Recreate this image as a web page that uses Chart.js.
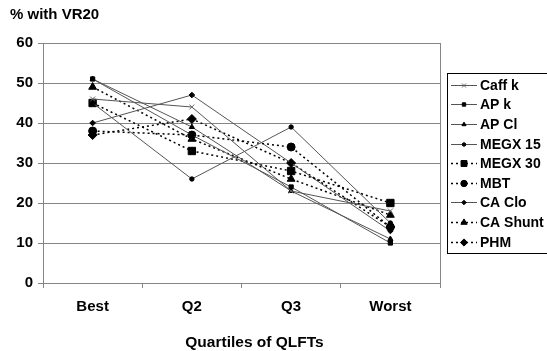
<!DOCTYPE html>
<html>
<head>
<meta charset="utf-8">
<script src="https://cdn.jsdelivr.net/npm/chart.js@4.4.1/dist/chart.umd.min.js"></script>
<style>
  body { margin: 0; background: #fff; }
  #wrap { width: 547px; height: 351px; }
</style>
</head>
<body>
<div id="wrap"><canvas id="vr20_chart" width="547" height="351"></canvas></div>
<script>
// categories and values
var quartiles = ['Best', 'Q2', 'Q3', 'Worst'];
var seriesNames = ['Caff k', 'AP k', 'AP Cl', 'MEGX 15', 'MEGX 30', 'MBT', 'CA Clo', 'CA Shunt', 'PHM'];

var caffK    = [46, 44, 23, 18];
var apK      = [51, 37, 24, 10];
var apCl     = [51, 39, 23, 11];
var megx15   = [45, 26, 39, 15];
var megx30   = [45, 33, 28, 20];
var mbt      = [38, 37, 34, 14];
var caClo    = [40, 47, 30, 13];
var caShunt  = [49, 36, 26, 17];
var phm      = [37, 41, 30, 14];

var yTicks = [0, 10, 20, 30, 40, 50, 60];
var xTitle = 'Quartiles of QLFTs';

var FONT = '"Liberation Sans", Arial, sans-serif';
var GRID = '#868686';

function line(name, values, style, radius, dotted, color) {
  return {
    label: name,
    data: values,
    borderColor: dotted ? '#000' : '#555',
    borderWidth: dotted ? 1.5 : 1,
    borderDash: dotted ? [2, 3] : [],
    pointStyle: style,
    pointRadius: radius,
    pointBackgroundColor: color || '#000',
    pointBorderColor: color || '#000',
    pointBorderWidth: 1,
    tension: 0,
    fill: false
  };
}

// legend in a box (line + marker), plot border and x axis title
var boxedLegend = {
  id: 'boxedLegend',
  afterDraw: function(chart) {
    var ctx = chart.ctx, area = chart.chartArea;
    ctx.save();
    ctx.strokeStyle = GRID;
    ctx.lineWidth = 1;
    ctx.beginPath();
    ctx.moveTo(Math.round(area.right) + 0.5, area.top);
    ctx.lineTo(Math.round(area.right) + 0.5, area.bottom);
    ctx.stroke();

    ctx.fillStyle = '#000';
    ctx.font = 'bold 15.5px ' + FONT;
    ctx.textAlign = 'center';
    ctx.textBaseline = 'middle';
    ctx.fillText(xTitle, (area.left + area.right) / 2 + 13, chart.height - 8);

    var sets = chart.data.datasets;
    var rowH = 19.6;
    var boxH = sets.length * rowH + 4;
    var left = Math.round(area.right) + 7;
    var top = Math.round((area.top + area.bottom) / 2 - boxH / 2);
    ctx.strokeStyle = '#000';
    ctx.strokeRect(left + 0.5, top + 0.5, chart.width, Math.round(boxH));

    ctx.font = 'bold 14px ' + FONT;
    ctx.textAlign = 'left';
    sets.forEach(function(ds, i) {
      var y = Math.round(top + 2 + rowH * (i + 0.5)) + 0.5;
      ctx.strokeStyle = ds.borderColor;
      ctx.lineWidth = ds.borderWidth;
      ctx.setLineDash(ds.borderDash);
      ctx.beginPath();
      ctx.moveTo(left + 4, y);
      ctx.lineTo(left + 30, y);
      ctx.stroke();
      ctx.setLineDash([]);
      ctx.fillStyle = ds.pointBackgroundColor;
      ctx.strokeStyle = ds.pointBorderColor;
      ctx.lineWidth = 1;
      Chart.helpers.drawPoint(ctx, {pointStyle: ds.pointStyle, radius: ds.pointRadius * 0.8, borderWidth: 1, rotation: 0}, left + 17, y);
      ctx.fillStyle = '#000';
      ctx.fillText(ds.label, left + 33, y + 1);
    });
    ctx.restore();
  }
};

var ctx_vr = document.getElementById('vr20_chart').getContext('2d');
var myChart = new Chart(ctx_vr, {
  type: 'line',
  data: {
    labels: quartiles,
    datasets: [
      line(seriesNames[0], caffK, 'crossRot', 3.5, false, '#666'),
      line(seriesNames[1], apK, 'rect', 3, false),
      line(seriesNames[2], apCl, 'triangle', 3, false),
      line(seriesNames[3], megx15, 'circle', 2.2, false),
      line(seriesNames[4], megx30, 'rect', 5.2, true),
      line(seriesNames[5], mbt, 'circle', 4, true),
      line(seriesNames[6], caClo, 'rectRot', 2.8, false),
      line(seriesNames[7], caShunt, 'triangle', 4.5, true),
      line(seriesNames[8], phm, 'rectRot', 4.5, true)
    ]
  },
  options: {
    responsive: false,
    animation: false,
    layout: { padding: { left: 10, right: 107, top: 0, bottom: 0 } },
    plugins: {
      legend: { display: false },
      tooltip: { enabled: false },
      title: {
        display: true,
        text: '% with VR20',
        align: 'start',
        color: '#000',
        font: { family: FONT, size: 15, weight: 'bold', lineHeight: 1.2 },
        padding: { top: 6, bottom: 19 }
      }
    },
    scales: {
      x: {
        offset: true,
        grid: { offset: true, drawOnChartArea: false, drawTicks: true, tickLength: 5, color: GRID },
        border: { color: GRID },
        ticks: { color: '#000', padding: 10, font: { family: FONT, size: 15, weight: 'bold' } },
        afterFit: function(scale) { scale.height = 68; }
      },
      y: {
        min: 0,
        max: 60,
        afterBuildTicks: function(scale) {
          scale.ticks = yTicks.map(function(v) { return { value: v }; });
        },
        grid: { color: GRID, tickLength: 5 },
        border: { color: GRID },
        ticks: { color: '#000', padding: 5, font: { family: FONT, size: 15, weight: 'bold' } },
        afterFit: function(scale) { scale.width = 33; }
      }
    }
  },
  plugins: [boxedLegend]
});
</script>
</body>
</html>
